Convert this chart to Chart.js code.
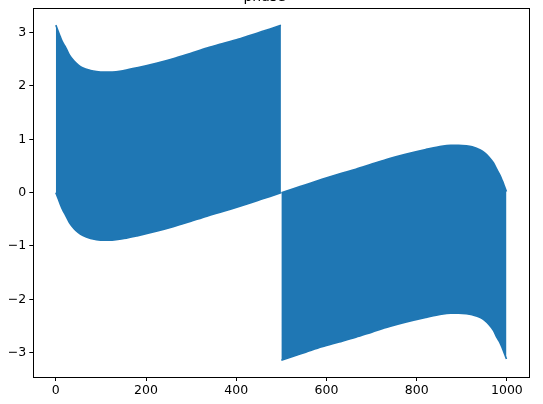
<!DOCTYPE html>
<html>
<head>
<meta charset="utf-8">
<script src="https://cdn.jsdelivr.net/npm/chart.js@4/dist/chart.umd.min.js"></script>
<style>
  html, body { margin: 0; padding: 0; background: #fff; overflow: hidden; }
  #wrap { position: absolute; left: 0; top: -20px; width: 543px; height: 424px; }
</style>
</head>
<body>
<div id="wrap"><canvas id="c" width="543" height="424"></canvas></div>
<script>
// ---- data (envelopes of the rapidly alternating phase) ----
const titleText = "phase";
const xFirst  = [0, 5, 10, 15, 22, 30, 40, 50, 59, 77, 90, 107, 125, 151, 180, 225, 260, 298, 335, 372, 410, 446, 475, 499];
const upperFirst = [3.14, 3.03, 2.92, 2.82, 2.72, 2.58, 2.47, 2.39, 2.34, 2.29, 2.27, 2.26, 2.26, 2.29, 2.34, 2.43, 2.51, 2.61, 2.71, 2.80, 2.89, 2.99, 3.07, 3.14];
const lowerFirst = [0.00, -0.11, -0.22, -0.32, -0.43, -0.56, -0.67, -0.75, -0.80, -0.86, -0.88, -0.89, -0.89, -0.86, -0.81, -0.72, -0.64, -0.54, -0.44, -0.35, -0.25, -0.15, -0.07, 0.00];
const xSecond = [500, 525, 554, 590, 628, 665, 702, 740, 775, 820, 849, 875, 893, 910, 923, 941, 950, 960, 970, 978, 985, 990, 995, 999];
const upperSecond = [0.00, 0.07, 0.15, 0.25, 0.35, 0.44, 0.54, 0.64, 0.72, 0.81, 0.86, 0.89, 0.89, 0.88, 0.86, 0.80, 0.75, 0.67, 0.56, 0.43, 0.32, 0.22, 0.11, 0.02];
const lowerSecond = [-3.14, -3.07, -2.99, -2.89, -2.80, -2.71, -2.61, -2.51, -2.43, -2.34, -2.29, -2.26, -2.26, -2.27, -2.29, -2.34, -2.39, -2.47, -2.58, -2.72, -2.82, -2.92, -3.03, -3.12];
const xTicks = [0, 200, 400, 600, 800, 1000];
const yTicks = [-3, -2, -1, 0, 1, 2, 3];

const blue = '#1f77b4';
const toPts = (xs, ys) => xs.map((x, i) => ({ x: x, y: ys[i] }));

function ds(xs, ys, fill) {
  return {
    data: toPts(xs, ys),
    borderColor: blue,
    backgroundColor: blue,
    borderWidth: 1.6,
    pointRadius: 0,
    fill: fill,
    cubicInterpolationMode: 'monotone'
  };
}

const frame = {
  id: 'frame',
  afterDatasetsDraw(chart) {
    const a = chart.chartArea, ctx = chart.ctx;
    ctx.save();
    ctx.strokeStyle = '#000';
    ctx.lineWidth = 1;
    ctx.strokeRect(Math.round(a.left) + 0.5, Math.round(a.top) + 0.5,
                   Math.round(a.right - a.left), Math.round(a.bottom - a.top));
    ctx.restore();
  }
};

const fontFam = "'DejaVu Sans', sans-serif";

new Chart(document.getElementById('c'), {
  type: 'line',
  data: {
    datasets: [
      ds(xFirst, upperFirst, '+1'),
      ds(xFirst, lowerFirst, false),
      ds(xSecond, upperSecond, '+1'),
      ds(xSecond, lowerSecond, false)
    ]
  },
  options: {
    responsive: false,
    animation: false,
    devicePixelRatio: 1,
    layout: { padding: { left: 0, right: 14, top: 0, bottom: 0 } },
    plugins: {
      legend: { display: false },
      tooltip: { enabled: false },
      filler: { propagate: false },
      title: {
        display: true,
        text: titleText,
        color: '#000',
        font: { family: fontFam, size: 14, weight: 'normal', lineHeight: 1.2 },
        padding: { top: 9.0, bottom: 2.5 }
      }
    },
    scales: {
      x: {
        type: 'linear',
        min: -49.95,
        max: 1048.95,
        afterBuildTicks: (axis) => { axis.ticks = xTicks.map(v => ({ value: v })); },
        afterFit: (axis) => { axis.height = 27; },
        grid: { display: true, drawOnChartArea: false, drawTicks: true, tickLength: 4, color: '#000', tickColor: '#000' },
        border: { display: true, color: '#000', width: 1 },
        ticks: { color: '#000', font: { family: fontFam, size: 12.5 }, padding: 2, maxRotation: 0, autoSkip: false,
                 callback: (v) => String(v) }
      },
      y: {
        type: 'linear',
        min: -3.456,
        max: 3.456,
        afterBuildTicks: (axis) => { axis.ticks = yTicks.map(v => ({ value: v })); },
        afterFit: (axis) => { axis.width = 33.3; },
        grid: { display: true, drawOnChartArea: false, drawTicks: true, tickLength: 4, color: '#000', tickColor: '#000' },
        border: { display: true, color: '#000', width: 1 },
        ticks: { color: '#000', font: { family: fontFam, size: 12.5 }, padding: 3, autoSkip: false,
                 callback: (v) => (v < 0 ? '\u2212' + Math.abs(v) : String(v)) }
      }
    }
  },
  plugins: [frame]
});
</script>
</body>
</html>
